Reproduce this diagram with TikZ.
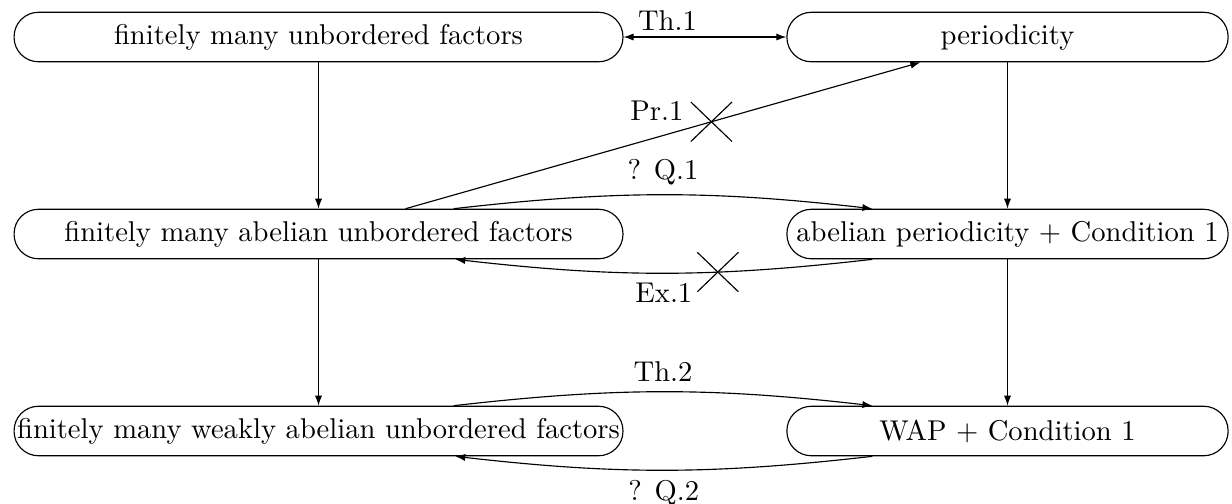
\documentclass[tikz,border=0pt]{standalone}
\usepackage{tikz}
\usetikzlibrary{arrows.meta,shapes.misc}
\tikzstyle{prop}=[rectangle, draw=black, rounded corners=0.3cm, minimum height=0.608cm, inner xsep=0pt, text centered]
\tikzstyle{lw}=[prop, minimum width=7.48cm]
\tikzstyle{rw}=[prop, minimum width=5.42cm]
\tikzstyle{imp}=[draw, -{Latex[length=3.5pt,width=2.5pt]}]
\tikzstyle{nope}=[-, cross out, draw, minimum width=0.49cm, minimum height=0.47cm, inner sep=0pt]

\begin{document}
\begin{tikzpicture}
\useasboundingbox (0,0) rectangle (15.135,-6.19);
\node [lw] (unb) at (3.913,-0.455) {finitely many unbordered factors};
\node [rw] (per) at (12.377,-0.455) {periodicity};
\node [lw] (aunb) at (3.913,-2.875) {finitely many abelian unbordered factors};
\node [rw] (aper) at (12.377,-2.875) {abelian periodicity + Condition 1};
\node [lw] (wunb) at (3.913,-5.295) {finitely many weakly abelian unbordered factors};
\node [rw] (wap) at (12.377,-5.295) {WAP + Condition 1};

\draw [{Latex[length=3.5pt,width=2.5pt]}-{Latex[length=3.5pt,width=2.5pt]}] (unb) -- node[above, pos=0.27, inner sep=2.2pt] (th1) {Th.1} (per);
\draw [imp] (unb) -- (aunb);
\draw [imp] (aunb) -- (wunb);
\draw [imp] (per) -- (aper);
\draw [imp] (aper) -- (wap);

\draw [imp] ([xshift=1.07cm]aunb.north) -- node[nope, pos=0.594] (x1) {} node[pos=0.488, above=2.5pt] (pr1) {Pr.1} ([xshift=-1.07cm]per.south);
\draw [imp] ([xshift=1.66cm]aunb.north) to[bend left=6.5] node[above] (q1) {? Q.1} ([xshift=-1.66cm]aper.north);
\draw [imp] ([xshift=-1.66cm]aper.south) to[bend left=6.5] node[nope, pos=0.36] (x2) {} node[below] (ex1) {Ex.1} ([xshift=1.68cm]aunb.south);

\draw [imp] ([xshift=1.66cm]wunb.north) to[bend left=6.5] node[above] (th2) {Th.2} ([xshift=-1.66cm]wap.north);
\draw [imp] ([xshift=-1.66cm]wap.south) to[bend left=6.5] node[below] (q2) {? Q.2} ([xshift=1.68cm]wunb.south);
\end{tikzpicture}
\end{document}
